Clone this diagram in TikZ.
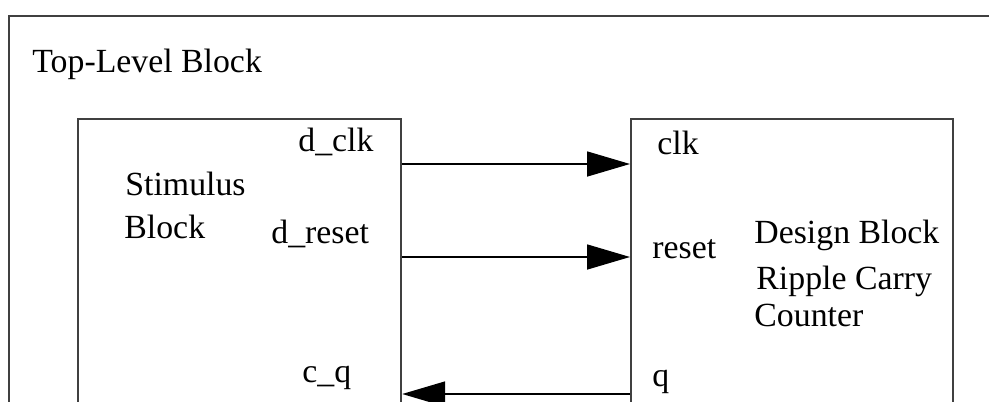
\documentclass[tikz,border=0pt]{standalone}
\usepackage{fontspec}
\setmainfont{Liberation Serif}
\usetikzlibrary{positioning, arrows.meta}

\begin{document}
\begin{tikzpicture}[
    x=0.5pt, y=-0.5pt,
    block/.style={rectangle, draw=black!75, line width=1.1pt,
                  anchor=north west, inner sep=0pt},
    lbl/.style={font=\fontsize{16.9}{20}\selectfont, inner sep=0pt,
                anchor=base west},
    sig/.style={draw=black, line width=0.8pt,
                -{Triangle[length=21.5pt, width=12.5pt]}}
]
  \useasboundingbox (0,0) rectangle (989,401);
  \clip (0,0) rectangle (989,401);

  % Top-Level Block
  \node[block, minimum width=520pt, minimum height=240pt] (top) at (8,15) {};
  \node[lbl] (toplbl) at (32,73) {Top-Level Block};

  % Stimulus
  \node[block, minimum width=161.5pt, minimum height=200pt] (stim) at (77,118) {};
  \node[lbl] (stim1) at (125,195) {Stimulus};
  \node[lbl] (stim2) at (124,238) {Block};
  \node[lbl] (dclk) at (298,151) {d\_clk};
  \node[lbl] (dreset) at (271,243) {d\_reset};
  \node[lbl] (cq) at (302,382) {c\_q};

  % Design
  \node[block, minimum width=161pt, minimum height=200pt] (dsg) at (630,118) {};
  \node[lbl] (clk) at (657,155) {clk};
  \node[lbl] (reset) at (652,258) {reset};
  \node[lbl] (q) at (652,386) {q};
  \node[lbl] (dsg1) at (754,243) {Design Block};
  \node[lbl] (dsg2) at (756,289) {Ripple Carry};
  \node[lbl] (dsg3) at (754,326) {Counter};

  % Arrows
  \coordinate (pclk) at (0,164);
  \coordinate (preset) at (0,257);
  \coordinate (pq) at (0,394);
  \draw[sig] (stim.east |- pclk) -- (dsg.west |- pclk);
  \draw[sig] (stim.east |- preset) -- (dsg.west |- preset);
  \draw[sig] (dsg.west |- pq) -- (stim.east |- pq);
\end{tikzpicture}
\end{document}
